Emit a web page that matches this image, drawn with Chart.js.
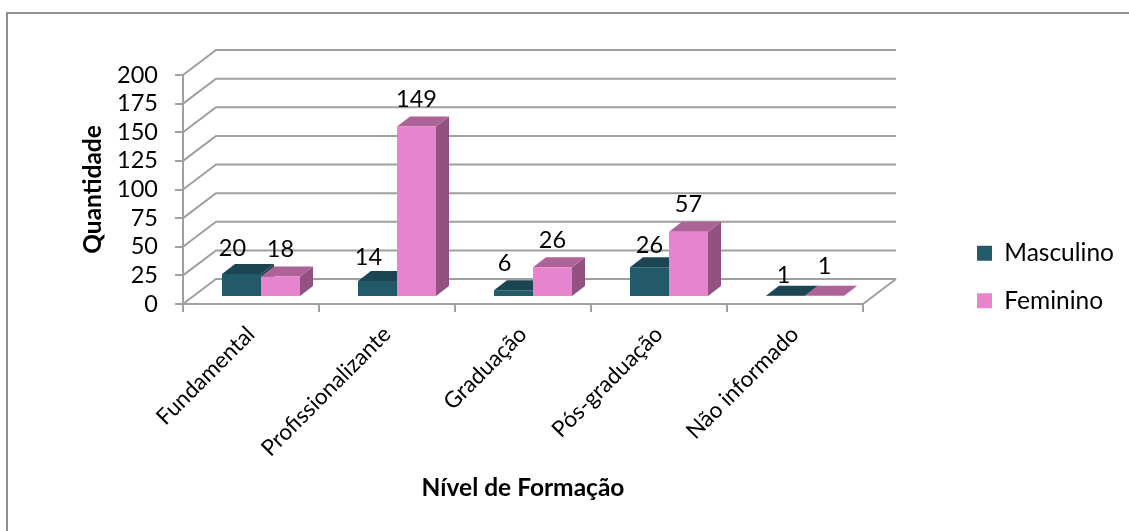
<!DOCTYPE html>
<html><head><meta charset="utf-8">
<script src="https://cdn.jsdelivr.net/npm/chart.js@4"></script>
<style>html,body{margin:0;padding:0;background:#fff;overflow:hidden}#w{position:absolute;left:0;top:0;width:1129px;height:531px}</style>
</head><body><div id="w"><canvas id="c"></canvas></div>
<script>
const categories = ["Fundamental","Profissionalizante","Graduação","Pós-graduação","Não informado"];
const masculino = [20,14,6,26,1];
const feminino = [18,149,26,57,1];
const seriesNames = ["Masculino","Feminino"];
const xTitle = "Nível de Formação";
const yTitle = "Quantidade";
const yMax = 200, yStep = 25;

const FONT = "Lato, Carlito, Calibri, sans-serif";
const GRAY = "#9f9f9f";
const BACK = {x:33, y:-25};      // wall depth
const DEPTH = {x:13, y:-10};     // bar depth
const SHIFT = {x:10, y:-7};      // bars sit inside the floor
const shades = [{front:"#235a6a", top:"#1b4552", side:"#1c4a57"},
                {front:"#e883cd", top:"#ae6398", side:"#925180"}];
// label nudges from the bar top-centre, per series/category
const labelNudge = [[[-9,-26],[-9,-24],[-9,-27],[0,-22],[-2,-20]],
                    [[0,-27],[0,-27],[0,-27],[0,-27],[0,-29]]];

const poly = (ctx,pts,color)=>{ctx.fillStyle=color;ctx.beginPath();pts.forEach((p,i)=>i?ctx.lineTo(p[0],p[1]):ctx.moveTo(p[0],p[1]));ctx.closePath();ctx.fill();};

const frame3d = {
  id:"frame3d",
  afterLayout(chart){
    const lg = chart.legend, pad = lg.options.labels.padding;
    const w = lg.width, h = lg.height;
    lg.left = 977-pad; lg.right = lg.left+w;
    lg.top = 241-pad; lg.bottom = lg.top+h;
  },
  beforeDraw(chart){
    const c = chart.ctx;
    c.save();c.fillStyle="#fff";c.fillRect(0,0,chart.width,chart.height);
    c.strokeStyle="#8f8f8f";c.lineWidth=2;
    c.beginPath();c.moveTo(7,531);c.lineTo(7,13);c.lineTo(1129,13);c.stroke();
    c.restore();
  },
  beforeDatasetsDraw(chart){
    const c = chart.ctx, a = chart.chartArea, y = chart.scales.y;
    c.save();
    c.strokeStyle=GRAY;c.lineWidth=2;
    y.ticks.forEach(t=>{
      const py=y.getPixelForValue(t.value);
      c.beginPath();c.moveTo(a.left,py);c.lineTo(a.left+BACK.x,py+BACK.y);c.lineTo(a.right+BACK.x,py+BACK.y);c.stroke();
    });
    c.beginPath();c.moveTo(a.right,a.bottom);c.lineTo(a.right+BACK.x,a.bottom+BACK.y);c.stroke();
    // bar sides and tops
    [0,1].forEach(i=>{
      chart.getDatasetMeta(i).data.forEach(el=>{
        const l=el.x-el.width/2+SHIFT.x, r=el.x+el.width/2+SHIFT.x, t=el.y+SHIFT.y, b=el.base+SHIFT.y;
        poly(c,[[r,t],[r+DEPTH.x,t+DEPTH.y],[r+DEPTH.x,b+DEPTH.y],[r,b]],shades[i].side);
        poly(c,[[l,t],[l+DEPTH.x,t+DEPTH.y],[r+DEPTH.x,t+DEPTH.y],[r,t]],shades[i].top);
      });
    });
    c.translate(SHIFT.x,SHIFT.y);
  },
  afterDatasetsDraw(chart){
    const c = chart.ctx;
    c.restore();
    c.save();
    c.fillStyle="#000";c.font="23.5px "+FONT;c.textAlign="center";c.textBaseline="middle";
    [0,1].forEach(i=>{
      const ds=chart.data.datasets[i];
      chart.getDatasetMeta(i).data.forEach((el,j)=>{
        const n=labelNudge[i][j];
        c.fillText(String(ds.data[j]),el.x+SHIFT.x+n[0],el.y+SHIFT.y+n[1]);
      });
    });
    c.restore();
  }
};

new Chart(document.getElementById("c"),{
  type:"bar",
  data:{labels:categories,datasets:[
    {label:seriesNames[0],data:masculino,backgroundColor:shades[0].front,clip:false},
    {label:seriesNames[1],data:feminino,backgroundColor:shades[1].front,clip:false}
  ]},
  options:{
    responsive:true,maintainAspectRatio:false,animation:false,
    layout:{padding:{left:78,top:75,right:266,bottom:28}},
    datasets:{bar:{categoryPercentage:0.5735,barPercentage:1}},
    plugins:{
      tooltip:{enabled:false},
      legend:{position:"chartArea",align:"start",
        labels:{boxWidth:15,boxHeight:15,padding:23,color:"#000",font:{family:FONT,size:24.5}}}
    },
    scales:{
      x:{
        afterFit(s){s.height=199;},
        grid:{offset:true,drawOnChartArea:false,color:GRAY,lineWidth:2,tickLength:8},
        border:{color:GRAY,width:2},
        ticks:{color:"#000",font:{family:FONT,size:22.5},minRotation:45,maxRotation:45,padding:9,autoSkip:false},
        title:{display:true,text:xTitle,color:"#000",font:{family:FONT,size:24.5,weight:"bold"},padding:{top:0,bottom:0}}
      },
      y:{
        min:0,max:yMax,
        afterFit(s){s.width=105;},
        grid:{drawOnChartArea:false,color:GRAY,lineWidth:2,tickLength:8},
        border:{color:GRAY,width:2},
        ticks:{stepSize:yStep,autoSkip:false,color:"#000",font:{family:FONT,size:23.5},padding:17},
        title:{display:true,text:yTitle,color:"#000",font:{family:FONT,size:24.5,weight:"bold"},padding:{top:0,bottom:0}}
      }
    }
  },
  plugins:[frame3d]
});
</script></body></html>
